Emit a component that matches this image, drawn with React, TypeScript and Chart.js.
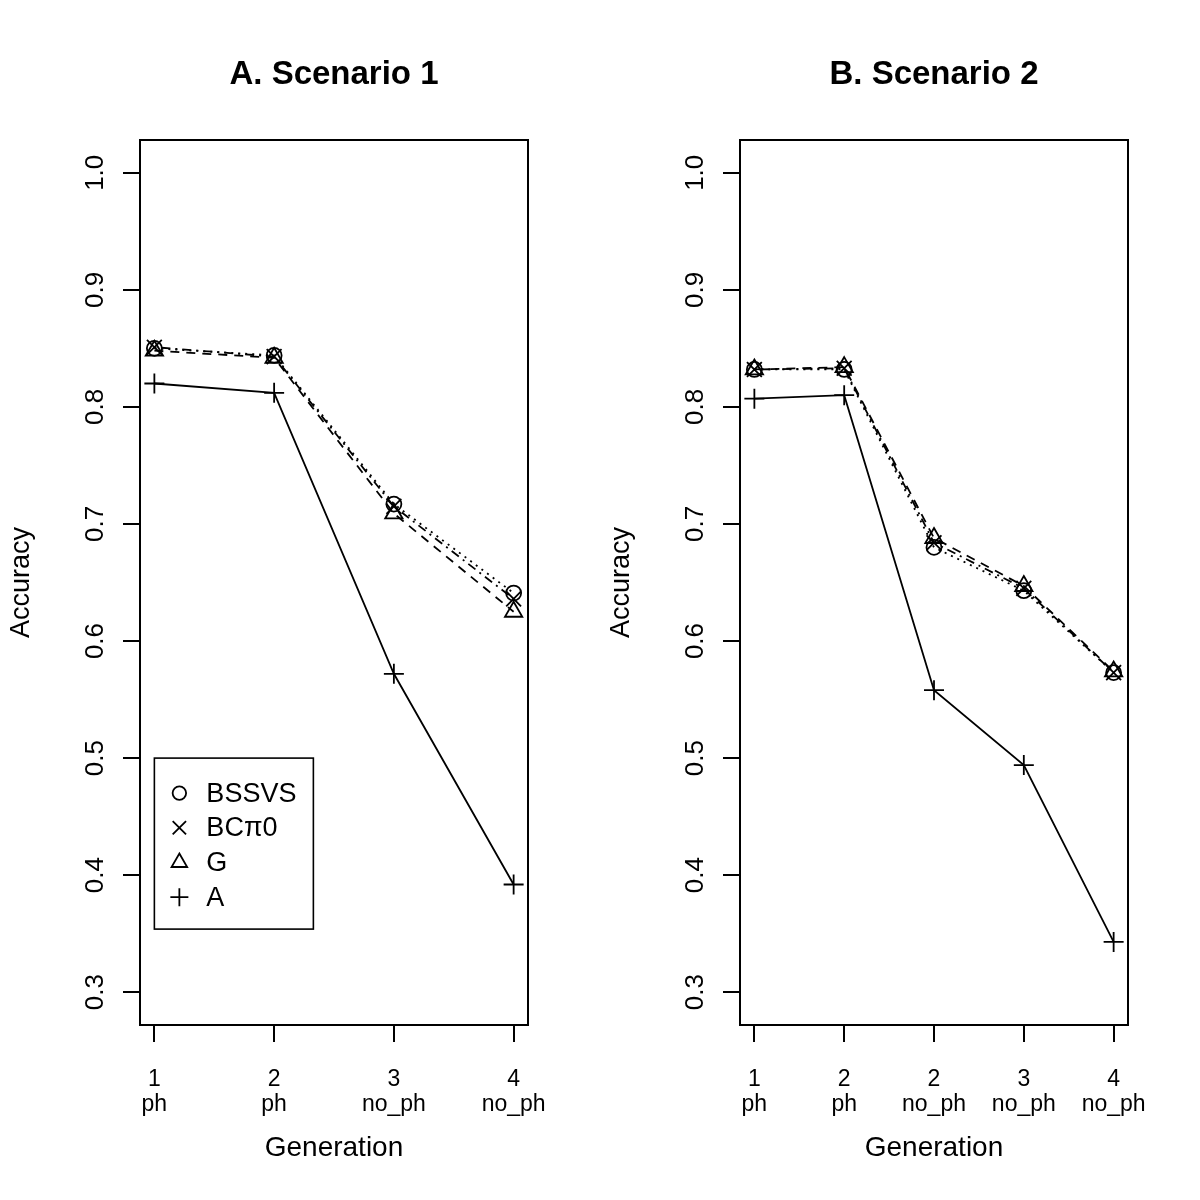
import React, { useEffect, useRef } from "react";
import { Chart, registerables } from "chart.js";
import { drawPoint } from "chart.js/helpers";

Chart.register(...registerables);
Chart.defaults.font.family = "'Liberation Sans', Arial, Helvetica, sans-serif";
Chart.defaults.color = "#000";

// ---- data ----
const seriesLabels = ["BSSVS", "BCπ0", "G", "A"];
const pointStyles = ["circle", "crossRot", "triangle", "cross"];
const pointRadii = [7.5, 10.5, 10, 10];
const lineDashes: number[][] = [[2, 5], [2, 5, 9, 5], [9, 7], []];

const yTicks = [0.3, 0.4, 0.5, 0.6, 0.7, 0.8, 0.9, 1.0];
const yMin = 0.3;
const yMax = 1.0;

const titleA = "A. Scenario 1";
const genA = ["1", "2", "3", "4"];
const phA = ["ph", "ph", "no_ph", "no_ph"];
const bssvsA = [0.850, 0.844, 0.717, 0.641];
const bcpiA = [0.851, 0.843, 0.715, 0.636];
const gA = [0.848, 0.842, 0.709, 0.625];
const aA = [0.820, 0.812, 0.572, 0.392];

const titleB = "B. Scenario 2";
const genB = ["1", "2", "2", "3", "4"];
const phB = ["ph", "ph", "no_ph", "no_ph", "no_ph"];
const bssvsB = [0.832, 0.832, 0.680, 0.643, 0.573];
const bcpiB = [0.832, 0.833, 0.684, 0.645, 0.573];
const gB = [0.832, 0.834, 0.688, 0.647, 0.574];
const aB = [0.807, 0.810, 0.558, 0.494, 0.343];

// legend anchor in data coordinates (top-left corner)
const legendAnchorX = 1;
const legendAnchorY = 0.5;

// ---- plugins ----
const boxPlugin = {
  id: "plotBox",
  afterDraw(chart: any) {
    const { ctx, chartArea } = chart;
    ctx.save();
    ctx.strokeStyle = "#000";
    ctx.lineWidth = 2;
    ctx.strokeRect(chartArea.left, chartArea.top, chartArea.right - chartArea.left, chartArea.bottom - chartArea.top);
    ctx.restore();
  },
};

const insetLegendPlugin = {
  id: "insetLegend",
  afterDraw(chart: any, _args: any, opts: any) {
    if (!opts || !opts.display) return;
    const { ctx } = chart;
    const left = chart.scales.x.getPixelForValue(opts.x);
    const top = chart.scales.y.getPixelForValue(opts.y);
    const w = 159;
    const h = 171;
    ctx.save();
    ctx.strokeStyle = "#000";
    ctx.lineWidth = 1.6;
    ctx.strokeRect(left, top, w, h);
    ctx.font = "27px 'Liberation Sans', Arial, sans-serif";
    ctx.textAlign = "left";
    ctx.textBaseline = "middle";
    chart.data.datasets.forEach((ds: any, i: number) => {
      const cy = top + 35 + i * 34.7;
      ctx.fillStyle = "rgba(0,0,0,0)";
      ctx.strokeStyle = "#000";
      ctx.lineWidth = 1.8;
      drawPoint(ctx, { pointStyle: ds.pointStyle, radius: ds.pointRadius * 0.9, borderWidth: 1.8, rotation: 0 } as any, left + 25, cy);
      ctx.fillStyle = "#000";
      ctx.fillText(ds.label, left + 52, cy + 1);
    });
    ctx.restore();
  },
};

function makeConfig(title: string, gen: string[], ph: string[], series: number[][], showLegend: boolean): any {
  const n = gen.length;
  const xPad = (n - 1) * 0.04;
  const yPad = (yMax - yMin) * 0.04;
  return {
    type: "line",
    data: {
      datasets: series.map((vals, i) => ({
        label: seriesLabels[i],
        data: vals.map((v, j) => ({ x: j + 1, y: v })),
        borderColor: "#000",
        backgroundColor: "rgba(0,0,0,0)",
        borderWidth: 1.8,
        borderDash: lineDashes[i],
        pointStyle: pointStyles[i],
        pointRadius: pointRadii[i],
        pointBorderWidth: 1.8,
        pointBorderColor: "#000",
        pointBackgroundColor: "rgba(0,0,0,0)",
        tension: 0,
        fill: false,
      })),
    },
    options: {
      responsive: false,
      maintainAspectRatio: false,
      animation: false,
      devicePixelRatio: 1,
      layout: { padding: { left: 0, right: 72, top: 0, bottom: 0 } },
      plugins: {
        legend: { display: false },
        tooltip: { enabled: false },
        title: {
          display: true,
          text: title,
          fullSize: false,
          color: "#000",
          font: { size: 33, weight: "bold" },
          padding: { top: 55, bottom: 45.4 },
        },
        insetLegend: { display: showLegend, x: legendAnchorX, y: legendAnchorY },
      },
      scales: {
        x: {
          type: "linear",
          min: 1 - xPad,
          max: n + xPad,
          afterBuildTicks: (s: any) => {
            s.ticks = gen.map((_, j) => ({ value: j + 1 }));
          },
          afterFit: (s: any) => {
            s.height = 175;
          },
          ticks: {
            autoSkip: false,
            maxRotation: 0,
            minRotation: 0,
            padding: 25,
            color: "#000",
            font: { size: 23, lineHeight: 1.1 },
            callback: (_v: any, idx: number) => [gen[idx], ph[idx]],
          },
          grid: { drawOnChartArea: false, drawTicks: true, tickLength: 17, color: "#000", lineWidth: 2 },
          border: { display: false },
          title: {
            display: true,
            text: "Generation",
            color: "#000",
            font: { size: 28 },
            padding: { top: 35, bottom: 35 },
          },
        },
        y: {
          type: "linear",
          min: yMin - yPad,
          max: yMax + yPad,
          afterBuildTicks: (s: any) => {
            s.ticks = yTicks.map((v) => ({ value: v }));
          },
          afterFit: (s: any) => {
            s.width = 140;
          },
          ticks: {
            minRotation: 90,
            maxRotation: 90,
            crossAlign: "center",
            padding: 9,
            color: "#000",
            font: { size: 26 },
            callback: (v: any) => Number(v).toFixed(1),
          },
          grid: { drawOnChartArea: false, drawTicks: true, tickLength: 17, color: "#000", lineWidth: 2 },
          border: { display: false },
          title: {
            display: true,
            text: "Accuracy",
            color: "#000",
            font: { size: 27 },
            padding: { top: 5, bottom: 5 },
          },
        },
      },
    },
    plugins: [boxPlugin, insetLegendPlugin],
  };
}

function Panel(props: { title: string; gen: string[]; ph: string[]; series: number[][]; legend: boolean }) {
  const ref = useRef<HTMLCanvasElement | null>(null);
  useEffect(() => {
    if (!ref.current) return;
    const chart = new Chart(ref.current, makeConfig(props.title, props.gen, props.ph, props.series, props.legend));
    return () => chart.destroy();
  }, []);
  return <canvas ref={ref} width={600} height={1200} style={{ display: "block", width: 600, height: 1200 }} />;
}

export default function App() {
  return (
    <div style={{ position: "absolute", left: 0, top: 0, width: 1200, height: 1200, display: "flex", background: "#fff" }}>
      <Panel title={titleA} gen={genA} ph={phA} series={[bssvsA, bcpiA, gA, aA]} legend={true} />
      <Panel title={titleB} gen={genB} ph={phB} series={[bssvsB, bcpiB, gB, aB]} legend={false} />
    </div>
  );
}
